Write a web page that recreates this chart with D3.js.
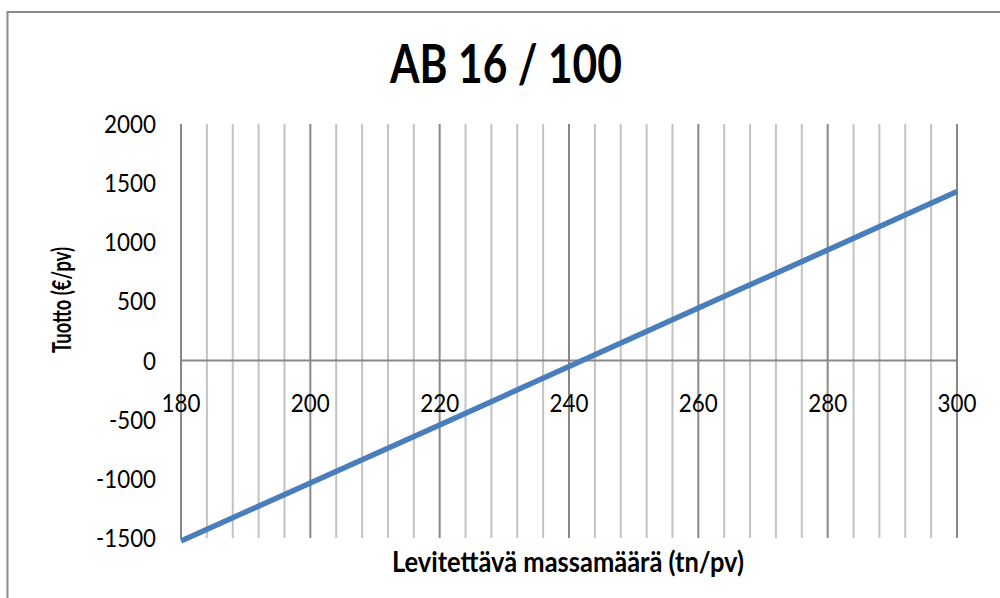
<!DOCTYPE html>
<html>
<head>
<meta charset="utf-8">
<script src="https://cdn.jsdelivr.net/npm/d3@7"></script>
<style>
  html, body { margin: 0; padding: 0; background: #fff; }
  svg { display: block; }
</style>
</head>
<body>
<svg id="chart" width="1000" height="598"></svg>
<script>
const titleText = "AB 16 / 100";
const xTitle = "Levitettävä massamäärä (tn/pv)";
const yTitle = "Tuotto (€/pv)";
const massValues = [180, 200, 220, 240, 260, 280, 300];
const profitValues = [-1525, -1035, -545, -50, 445, 935, 1430];
const xTicks = [180, 200, 220, 240, 260, 280, 300];
const xMinorTicks = d3.range(180, 301, 4);
const yTicks = [-1500, -1000, -500, 0, 500, 1000, 1500, 2000];

const svg = d3.select("#chart");
const font = "Lato, 'Open Sans', sans-serif";

svg.append("rect").attr("x", 7.5).attr("y", 12).attr("width", 1010).attr("height", 620)
  .attr("fill", "#fff").attr("stroke", "#8a8a8a").attr("stroke-width", 2);

const x = d3.scaleLinear().domain([180, 300]).range([181, 957]);
const y = d3.scaleLinear().domain([-1500, 2000]).range([538, 124]);

// vertical gridlines
svg.append("g").selectAll("line").data(xMinorTicks).join("line")
  .attr("x1", d => x(d)).attr("x2", d => x(d))
  .attr("y1", y(2000)).attr("y2", y(-1500))
  .attr("stroke", d => d % 20 === 0 ? "#888" : "#c2c2c2")
  .attr("stroke-width", 2);

// zero axis line
svg.append("line").attr("x1", x(180)).attr("x2", x(300))
  .attr("y1", y(0)).attr("y2", y(0))
  .attr("stroke", "#888").attr("stroke-width", 2);

// y tick labels
svg.append("g").selectAll("text").data(yTicks).join("text")
  .attr("x", 156).attr("y", d => y(d) + 9)
  .attr("text-anchor", "end")
  .attr("font-family", font).attr("font-size", 24.5).attr("fill", "#000")
  .attr("textLength", d => String(d).replace("-", "").length * 13 + (d < 0 ? 8 : 0))
  .attr("lengthAdjust", "spacingAndGlyphs")
  .text(d => d);

// x tick labels
svg.append("g").selectAll("text").data(xTicks).join("text")
  .attr("x", d => x(d)).attr("y", 412)
  .attr("text-anchor", "middle")
  .attr("font-family", font).attr("font-size", 24.5).attr("fill", "#000")
  .attr("textLength", 39).attr("lengthAdjust", "spacingAndGlyphs")
  .text(d => d);

// data line
const line = d3.line().x((d, i) => x(massValues[i])).y(d => y(d));
svg.append("path").datum(profitValues)
  .attr("d", line).attr("fill", "none")
  .attr("stroke", "#4a7ebb").attr("stroke-width", 5.5);

// title
svg.append("text").attr("x", 506).attr("y", 83)
  .attr("text-anchor", "middle")
  .attr("font-family", font).attr("font-weight", "bold").attr("font-size", 54)
  .attr("textLength", 232).attr("lengthAdjust", "spacingAndGlyphs")
  .text(titleText);

// x title
svg.append("text").attr("x", 568).attr("y", 572)
  .attr("text-anchor", "middle")
  .attr("font-family", font).attr("font-weight", "bold").attr("font-size", 28)
  .attr("textLength", 352).attr("lengthAdjust", "spacingAndGlyphs")
  .text(xTitle);

// y title
svg.append("text").attr("transform", "translate(71,300) rotate(-90)")
  .attr("text-anchor", "middle")
  .attr("font-family", font).attr("font-weight", "bold").attr("font-size", 27)
  .attr("textLength", 106).attr("lengthAdjust", "spacingAndGlyphs")
  .text(yTitle);
</script>
</body>
</html>
